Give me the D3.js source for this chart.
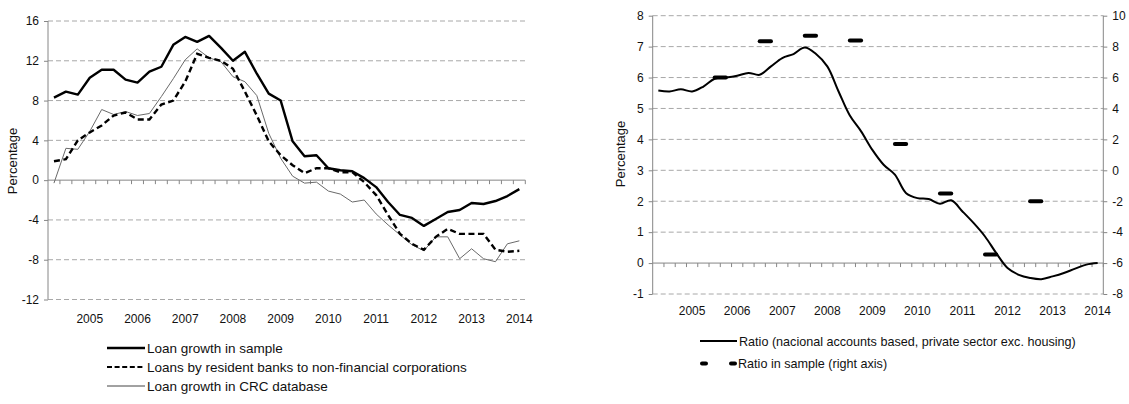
<!DOCTYPE html>
<html>
<head>
<meta charset="utf-8">
<script src="https://cdn.jsdelivr.net/npm/d3@7"></script>
<style>
  body { margin: 0; background: #fff; }
  svg { display: block; font-family: "Liberation Sans", Arial, sans-serif; }
</style>
</head>
<body>
<svg id="chart" width="1129" height="404"></svg>
<script>
const quarters = [
    '2004Q2', '2004Q3', '2004Q4',
    '2005Q1', '2005Q2', '2005Q3', '2005Q4',
    '2006Q1', '2006Q2', '2006Q3', '2006Q4',
    '2007Q1', '2007Q2', '2007Q3', '2007Q4',
    '2008Q1', '2008Q2', '2008Q3', '2008Q4',
    '2009Q1', '2009Q2', '2009Q3', '2009Q4',
    '2010Q1', '2010Q2', '2010Q3', '2010Q4',
    '2011Q1', '2011Q2', '2011Q3', '2011Q4',
    '2012Q1', '2012Q2', '2012Q3', '2012Q4',
    '2013Q1', '2013Q2', '2013Q3', '2013Q4',
    '2014Q1'
];
const yearLabels = ['2005', '2006', '2007', '2008', '2009', '2010', '2011', '2012', '2013', '2014'];

// left panel
const loanSample = [8.3, 8.9, 8.6, 10.3, 11.1, 11.1, 10.1, 9.8, 10.9, 11.4,
    13.6, 14.4, 13.9, 14.5, 13.3, 12.0, 12.9, 10.7, 8.7, 8.0,
    3.9, 2.4, 2.5, 1.2, 1.0, 0.9, 0.2, -0.7, -2.2, -3.5,
    -3.8, -4.6, -3.9, -3.2, -3.0, -2.3, -2.4, -2.1, -1.6, -0.9];
const loanBanks = [1.9, 2.1, 4.0, 4.8, 5.5, 6.5, 6.8, 6.1, 6.1, 7.6,
    8.0, 9.9, 12.7, 12.3, 12.0, 11.2, 8.9, 6.5, 3.9, 2.5,
    1.5, 0.7, 1.2, 1.2, 0.8, 0.8, -0.2, -1.5, -3.5, -5.4,
    -6.4, -7.0, -5.7, -4.9, -5.4, -5.4, -5.4, -7.0, -7.2, -7.1];
const loanCRC = [-0.3, 3.2, 3.1, 4.9, 7.1, 6.6, 6.9, 6.5, 6.7, 8.4,
    10.2, 12.1, 13.2, 12.3, 11.9, 10.4, 9.9, 8.5, 4.7, 2.2,
    0.4, -0.3, -0.2, -1.1, -1.4, -2.2, -2.0, -3.4, -4.5, -5.5,
    -6.5, -7.1, -5.7, -5.7, -7.9, -6.9, -7.9, -8.2, -6.4, -6.1];
const leftTicks = [-12, -8, -4, 0, 4, 8, 12, 16];

// right panel
const ratioNational = [5.58, 5.55, 5.62, 5.55, 5.71, 5.96, 6.0, 6.06, 6.15, 6.09,
    6.36, 6.63, 6.76, 6.97, 6.76, 6.36, 5.55, 4.77, 4.26, 3.66,
    3.18, 2.86, 2.26, 2.1, 2.07, 1.92, 2.03, 1.67, 1.29, 0.86,
    0.32, -0.16, -0.38, -0.48, -0.52, -0.43, -0.32, -0.18, -0.05, 0.0];
const sampleYears = ['2005', '2006', '2007', '2008', '2009', '2010', '2011', '2012'];
const sampleRatio = [6.0, 8.35, 8.7, 8.4, 1.7, -1.5, -5.45, -2.0];
const rightTicksL = [-1, 0, 1, 2, 3, 4, 5, 6, 7, 8];
const rightTicksR = [-8, -6, -4, -2, 0, 2, 4, 6, 8, 10];

const svg = d3.select('#chart');
const AXIS = '#868686';
const GRID = '#a8a8a8';
const TXT = '#111';
const fmt = d => String(d);   // plain hyphen for negatives, like the original

function panel(o) {
    const g = svg.append('g');
    const x = d3.scaleBand().domain(quarters).range([o.x0, o.x1]);
    const bw = x.bandwidth();
    const cx = d => x(d) + bw / 2;

    // gridlines
    g.selectAll('line.grid')
        .data(o.ticks.filter(t => t !== o.base))
        .join('line')
        .attr('x1', o.x0).attr('x2', o.x1)
        .attr('y1', d => o.y(d)).attr('y2', d => o.y(d))
        .attr('stroke', GRID).attr('stroke-dasharray', '5,3');

    // left axis
    const ay = g.append('g').attr('transform', `translate(${o.x0},0)`)
        .call(d3.axisLeft(o.y).tickValues(o.ticks).tickSize(4).tickPadding(5).tickFormat(fmt));
    ay.select('.domain').attr('stroke', AXIS).attr('d', `M0,${o.y.range()[0]}V${o.y.range()[1]}`);
    ay.selectAll('.tick line').attr('stroke', AXIS);
    ay.selectAll('text').attr('font-size', 12).attr('fill', TXT);

    // category axis on the base line
    const by = o.y(o.base);
    g.append('line').attr('x1', o.x0).attr('x2', o.x1).attr('y1', by).attr('y2', by).attr('stroke', AXIS);
    g.selectAll('line.qtick')
        .data(quarters.slice(1).concat(['end']))
        .join('line')
        .attr('x1', d => d === 'end' ? o.x1 : x(d))
        .attr('x2', d => d === 'end' ? o.x1 : x(d))
        .attr('y1', by).attr('y2', by + 4)
        .attr('stroke', AXIS);
    g.selectAll('text.year')
        .data(yearLabels)
        .join('text')
        .attr('x', d => cx(d + 'Q1'))
        .attr('y', o.yearY)
        .attr('text-anchor', 'middle')
        .attr('font-size', 12).attr('fill', TXT)
        .text(d => d);

    // y title
    g.append('text')
        .attr('transform', `translate(${o.titleX},${o.titleY}) rotate(-90)`)
        .attr('text-anchor', 'middle')
        .attr('font-size', 13).attr('fill', TXT)
        .text('Percentage');

    return { g, x, cx };
}

// ---------- left panel ----------
const yL = d3.scaleLinear().domain([-12, 16]).range([299.5, 21]);
const P1 = panel({ x0: 48, x1: 525.3, y: yL, ticks: leftTicks, base: 0, yearY: 322.5, titleX: 17, titleY: 161 });

const lineL = d3.line().x((d, i) => P1.cx(quarters[i])).y(d => yL(d));
P1.g.append('path').datum(loanCRC).attr('d', lineL)
    .attr('fill', 'none').attr('stroke', '#6a6a6a').attr('stroke-width', 1);
P1.g.append('path').datum(loanBanks).attr('d', lineL)
    .attr('fill', 'none').attr('stroke', '#000').attr('stroke-width', 2.4).attr('stroke-dasharray', '6,3.5');
P1.g.append('path').datum(loanSample).attr('d', lineL)
    .attr('fill', 'none').attr('stroke', '#000').attr('stroke-width', 2.4).attr('stroke-linejoin', 'round');

const legL = [
    { name: 'Loan growth in sample', w: 2.4, c: '#000', dash: null },
    { name: 'Loans by resident banks to non-financial corporations', w: 2.2, c: '#000', dash: '5,2.6' },
    { name: 'Loan growth in CRC  database', w: 1, c: '#444', dash: null }
];
const lgL = svg.append('g').selectAll('g').data(legL).join('g')
    .attr('transform', (d, i) => `translate(107,${348 + i * 19})`);
lgL.append('line').attr('x1', 0).attr('x2', 38)
    .attr('stroke', d => d.c).attr('stroke-width', d => d.w).attr('stroke-dasharray', d => d.dash);
lgL.append('text').attr('x', 40).attr('y', 4.7).attr('font-size', 13.5).attr('fill', TXT).text(d => d.name);

// ---------- right panel ----------
const yR1 = d3.scaleLinear().domain([-1, 8]).range([294, 15.7]);
const yR2 = d3.scaleLinear().domain([-8, 10]).range([294, 15.7]);
const P2 = panel({ x0: 652.7, x1: 1103.3, y: yR1, ticks: rightTicksL, base: 0, yearY: 314.5, titleX: 625, titleY: 154 });

const ar = P2.g.append('g').attr('transform', 'translate(1103.3,0)')
    .call(d3.axisRight(yR2).tickValues(rightTicksR).tickSize(4).tickPadding(5).tickFormat(fmt));
ar.select('.domain').attr('stroke', AXIS).attr('d', `M0,294V15.7`);
ar.selectAll('.tick line').attr('stroke', AXIS);
ar.selectAll('text').attr('font-size', 12).attr('fill', TXT);

P2.g.append('path').datum(ratioNational)
    .attr('d', d3.line().curve(d3.curveCatmullRom).x((d, i) => P2.cx(quarters[i])).y(d => yR1(d)))
    .attr('fill', 'none').attr('stroke', '#000').attr('stroke-width', 2);

P2.g.selectAll('line.sample')
    .data(sampleYears.map((yr, i) => ({ yr, v: sampleRatio[i] })))
    .join('line')
    .attr('x1', d => P2.cx(d.yr + 'Q3')).attr('x2', d => P2.cx(d.yr + 'Q4'))
    .attr('y1', d => yR2(d.v)).attr('y2', d => yR2(d.v))
    .attr('stroke', '#000').attr('stroke-width', 4).attr('stroke-linecap', 'round');

const lgR = svg.append('g');
lgR.append('line').attr('x1', 700).attr('x2', 737).attr('y1', 341).attr('y2', 341)
    .attr('stroke', '#000').attr('stroke-width', 2);
lgR.append('text').attr('x', 739).attr('y', 345.5).attr('font-size', 12.6).attr('fill', TXT)
    .text('Ratio (nacional accounts based, private sector exc. housing)');
lgR.append('line').attr('x1', 702).attr('x2', 735).attr('y1', 363.5).attr('y2', 363.5)
    .attr('stroke', '#000').attr('stroke-width', 4).attr('stroke-linecap', 'round').attr('stroke-dasharray', '4,25');
lgR.append('text').attr('x', 738).attr('y', 368).attr('font-size', 12.6).attr('fill', TXT)
    .text('Ratio in sample (right axis)');
</script>
</body>
</html>
